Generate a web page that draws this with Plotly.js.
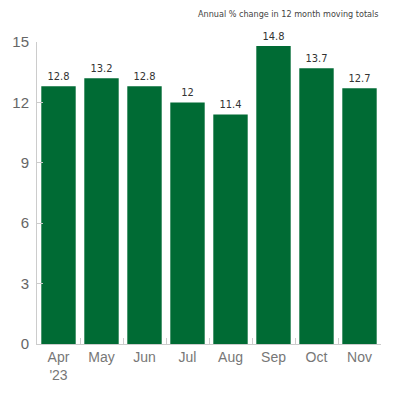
<!DOCTYPE html>
<html>
<head>
<meta charset="utf-8">
<script src="https://cdn.plot.ly/plotly-3.0.1.min.js"></script>
<style>
  html, body { margin: 0; padding: 0; background: #fff; }
  #plot { width: 400px; height: 400px; }
</style>
</head>
<body>
<div id="plot"></div>
<script>
// months (first one carries the year)
var months = ["Apr<br>'23", "May", "Jun", "Jul", "Aug", "Sep", "Oct", "Nov"];
// annual % change in 12 month moving totals
var changes = [12.8, 13.2, 12.8, 12, 11.4, 14.8, 13.7, 12.7];
var yTicks = [0, 3, 6, 9, 12, 15];

var trace = {
  x: months,
  y: changes,
  type: 'bar',
  marker: { color: '#006b34' },
  text: changes.map(String),
  textposition: 'outside',
  cliponaxis: false,
  textfont: { family: '"Liberation Sans Narrow", "DejaVu Sans Condensed", sans-serif', size: 11, color: '#333' },
  hoverinfo: 'none'
};

var layout = {
  width: 400,
  height: 400,
  margin: { l: 37, r: 19, t: 42, b: 56 },
  paper_bgcolor: '#fff',
  plot_bgcolor: '#fff',
  bargap: 0.2,
  showlegend: false,
  font: { family: '"Liberation Sans", Arial, sans-serif', color: '#777' },
  annotations: [{
    text: 'Annual % change in 12 month moving totals',
    xref: 'paper', yref: 'paper',
    x: 1, y: 1, yshift: 28,
    xanchor: 'right', yanchor: 'middle',
    showarrow: false,
    font: { family: '"Liberation Sans Narrow", "DejaVu Sans Condensed", sans-serif', size: 9, color: '#444' }
  }],
  xaxis: {
    type: 'category',
    showline: true,
    linecolor: '#ccc',
    linewidth: 1,
    ticks: 'inside',
    tickson: 'boundaries',
    ticklen: 6,
    tickcolor: '#ccc',
    showgrid: false,
    tickfont: { size: 14, color: '#777' }
  },
  yaxis: {
    range: [0, 15],
    tickvals: yTicks,
    showline: true,
    linecolor: '#ccc',
    linewidth: 1,
    ticks: 'inside',
    ticklen: 6,
    tickcolor: '#ccc',
    showgrid: false,
    zeroline: false,
    ticklabelstandoff: 4,
    tickfont: { size: 15, color: '#666' }
  }
};

Plotly.newPlot('plot', [trace], layout, { staticPlot: true });
</script>
</body>
</html>
